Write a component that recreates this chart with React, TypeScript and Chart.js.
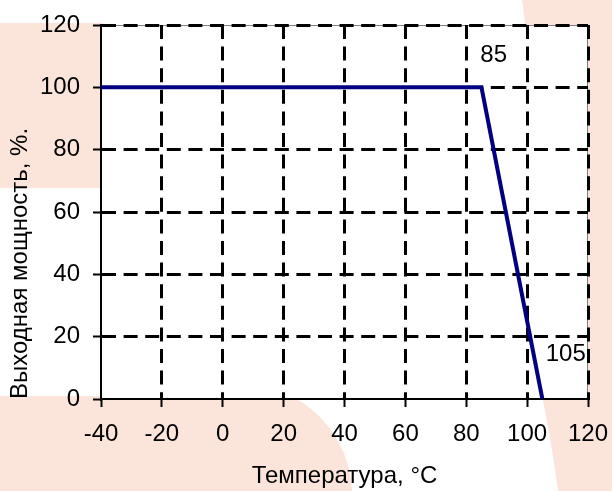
import { useEffect, useRef } from 'react';
import { Chart, registerables } from 'chart.js';

Chart.register(...registerables);

// ---- data ----
const temperatures = [-40, 85, 105];
const outputPower = [100, 100, 0];
const xTickValues = [-40, -20, 0, 20, 40, 60, 80, 100, 120];
const yTickValues = [0, 20, 40, 60, 80, 100, 120];
const noteTexts = ['85', '105'];
const noteX = [89, 112.7];
const noteY = [110.3, 14.4];

const FONT = "'Liberation Sans', Arial, sans-serif";
const FONT_SIZE = 24;
const PEACH = '#fbe5db';
const NAVY = '#000080';

const backgroundPlugin = {
  id: 'bgShapes',
  beforeDraw(chart: any) {
    const { ctx, chartArea: a, width, height } = chart;
    ctx.save();
    ctx.fillStyle = '#ffffff';
    ctx.fillRect(0, 0, width, height);
    ctx.fillStyle = PEACH;
    // top-left band
    ctx.fillRect(0, 23, a.left + 2, 165);
    // bottom-left rounded shape
    ctx.fillRect(0, 396, 241, height - 396);
    ctx.beginPath();
    ctx.arc(241, 495, 111, 0, Math.PI * 2);
    ctx.fill();
    // right curved shape
    ctx.beginPath();
    ctx.moveTo(522, 0);
    ctx.bezierCurveTo(532, 60, 536, 300, 543, 400);
    ctx.quadraticCurveTo(552, 445, 558, height);
    ctx.lineTo(width, height);
    ctx.lineTo(width, 0);
    ctx.closePath();
    ctx.fill();
    // plot area
    ctx.fillStyle = '#ffffff';
    ctx.fillRect(a.left, a.top, a.right - a.left, a.bottom - a.top);
    ctx.strokeStyle = '#808080';
    ctx.lineWidth = 1;
    ctx.strokeRect(a.left + 0.5, a.top + 0.5, a.right - a.left - 1, a.bottom - a.top - 1);
    ctx.restore();
  },
};

const notesPlugin = {
  id: 'notes',
  afterDatasetsDraw(chart: any) {
    const { ctx, scales } = chart;
    ctx.save();
    ctx.fillStyle = '#000';
    ctx.font = `${FONT_SIZE}px ${FONT}`;
    ctx.textAlign = 'center';
    ctx.textBaseline = 'middle';
    noteTexts.forEach((t, i) => {
      ctx.fillText(t, scales.x.getPixelForValue(noteX[i]), scales.y.getPixelForValue(noteY[i]));
    });
    ctx.restore();
  },
};

export default function App() {
  const ref = useRef<HTMLCanvasElement>(null);

  useEffect(() => {
    if (!ref.current) return;
    const chart = new Chart(ref.current, {
      type: 'line',
      data: {
        datasets: [
          {
            data: temperatures.map((t, i) => ({ x: t, y: outputPower[i] })),
            borderColor: NAVY,
            borderWidth: 4,
            pointRadius: 0,
            fill: false,
            tension: 0,
          },
        ],
      },
      options: {
        animation: false,
        responsive: false,
        devicePixelRatio: 1,
        layout: { padding: { left: 0, top: 25, right: 24, bottom: 0 } },
        plugins: { legend: { display: false }, tooltip: { enabled: false } },
        scales: {
          x: {
            type: 'linear',
            min: -40,
            max: 120,
            afterBuildTicks: (s: any) => {
              s.ticks = xTickValues.map((v) => ({ value: v }));
            },
            afterFit: (s: any) => {
              s.height = 92;
              s.paddingLeft = 0;
              s.paddingRight = 0;
            },
            ticks: {
              color: '#000',
              font: { family: FONT, size: FONT_SIZE },
              padding: 13,
              maxRotation: 0,
              autoSkip: false,
            },
            grid: {
              color: (c: any) => (c.tick && c.tick.value === -40 ? 'rgba(0,0,0,0)' : '#000'),
              lineWidth: 3,
              tickLength: 8,
              tickWidth: 2,
              tickColor: '#000',
              tickBorderDash: [],
            },
            border: { display: true, color: '#000', width: 2, dash: [14, 7.6] },
            title: {
              display: true,
              text: 'Температура, °C',
              color: '#000',
              font: { family: FONT, size: FONT_SIZE },
              padding: { top: 0, bottom: 0 },
            },
          },
          y: {
            type: 'linear',
            min: 0,
            max: 120,
            afterBuildTicks: (s: any) => {
              s.ticks = yTickValues.map((v) => ({ value: v }));
            },
            afterFit: (s: any) => {
              s.width = 101;
              s.paddingTop = 0;
              s.paddingBottom = 0;
            },
            ticks: {
              color: '#000',
              font: { family: FONT, size: FONT_SIZE },
              padding: 13,
              autoSkip: false,
            },
            grid: {
              color: (c: any) => (c.tick && c.tick.value === 0 ? 'rgba(0,0,0,0)' : '#000'),
              lineWidth: 3,
              tickLength: 8,
              tickWidth: 2,
              tickColor: '#000',
              tickBorderDash: [],
            },
            border: { display: true, color: '#000', width: 2, dash: [14, 7.6] },
            title: {
              display: true,
              text: 'Выходная мощность, %.',
              color: '#000',
              align: 'start',
              font: { family: FONT, size: FONT_SIZE },
              padding: { top: 6, bottom: 0 },
            },
          },
        },
      },
      plugins: [backgroundPlugin, notesPlugin],
    } as any);
    return () => chart.destroy();
  }, []);

  return (
    <div style={{ position: 'fixed', left: 0, top: 0, width: 612, height: 491, background: '#fff' }}>
      <canvas ref={ref} width={612} height={491} style={{ display: 'block', width: 612, height: 491 }} />
    </div>
  );
}
